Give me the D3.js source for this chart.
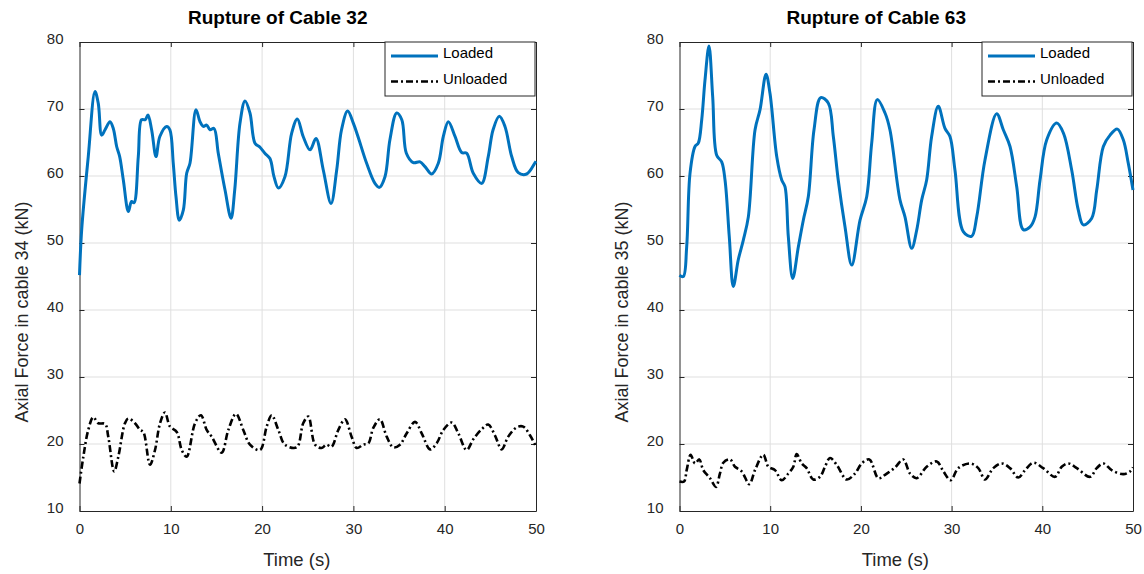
<!DOCTYPE html>
<html>
<head>
<meta charset="utf-8">
<script src="https://cdn.jsdelivr.net/npm/d3@7"></script>
<style>
  body { margin: 0; background: #fff; }
  svg { font-family: "Liberation Sans", Arial, sans-serif; }
</style>
</head>
<body>
<main></main>
<script>
const width = 1144;
const height = 574;

// ---- data (time in s, force in kN) ----
const c32LoadedT = [0, 0.24, 0.96, 1.7, 2.06, 2.43, 2.8, 3.34, 3.7, 4.07, 4.4, 4.8, 5.35, 5.7, 5.97, 6.44, 6.8, 7.2, 7.5, 7.9, 8.38, 8.8, 9.55, 9.9, 10.27, 10.57, 10.93, 11.37, 11.74, 12.1, 12.76, 13.2, 13.56, 13.93, 14.3, 14.73, 15.2, 15.94, 16.6, 17.0, 17.58, 18.13, 18.67, 19.22, 19.77, 20.3, 20.86, 21.3, 21.78, 22.5, 23.24, 23.86, 24.5, 25.25, 25.9, 26.7, 27.55, 28.17, 28.7, 29.37, 29.99, 30.5, 31.45, 32.36, 32.84, 33.46, 34.0, 34.74, 35.3, 35.8, 36.56, 37.3, 37.84, 38.57, 39.3, 39.85, 40.4, 41.13, 41.86, 42.4, 43.13, 44.05, 44.77, 45.3, 45.98, 46.6, 47.34, 48.06, 48.98, 49.9, 50];
const c32LoadedV = [45.2, 52, 62.9, 72.6, 70.8, 66.1, 66.9, 68.1, 67.1, 64.4, 62.9, 59.4, 54.7, 56.2, 56, 62.9, 68.4, 68.4, 69.1, 66.9, 62.9, 65.9, 67.4, 66.9, 61.9, 56.9, 53.4, 54.9, 60.4, 61.9, 69.9, 68.1, 67.4, 67.6, 66.9, 67.1, 63.4, 57.9, 53.7, 57.9, 67.9, 71.2, 69.4, 64.9, 64.3, 63.4, 62.6, 59.9, 58.2, 59.9, 66.4, 68.5, 65.9, 63.9, 65.6, 60.9, 55.9, 60.9, 66.9, 69.7, 67.9, 65.9, 61.9, 58.9, 58.3, 59.9, 65.4, 69.4, 68.4, 63.4, 62, 62.1, 61.4, 60.3, 61.9, 65.9, 68.1, 65.9, 63.5, 63.4, 60.4, 58.9, 62.9, 66.9, 68.9, 67.4, 62.9, 60.5, 60.3, 62, 62.2];

const c32UnloadedT = [0, 0.42, 0.96, 1.51, 2.06, 2.8, 3.15, 3.8, 4.25, 4.98, 5.35, 6.08, 6.63, 6.99, 7.72, 8.27, 8.82, 9.36, 9.91, 10.65, 11.2, 11.74, 12.65, 13.3, 13.93, 14.48, 15.57, 16.3, 17.14, 17.94, 18.67, 19.77, 20.5, 21.05, 21.78, 22.5, 23.79, 24.5, 25.06, 25.8, 26.5, 27.06, 27.6, 28.35, 29.08, 29.8, 30.36, 31.08, 31.63, 32.18, 32.9, 33.65, 34.37, 35.1, 35.84, 36.75, 37.48, 38.4, 39.12, 39.85, 40.77, 41.49, 42.4, 43.13, 44.05, 44.77, 45.5, 46.24, 46.96, 47.9, 48.6, 49.34, 50];
const c32UnloadedV = [14.1, 18.1, 22.1, 24.0, 23.1, 23, 21.1, 15.9, 18.1, 23.1, 23.8, 23.1, 22.1, 21.8, 16.9, 19.1, 23.1, 24.7, 22.6, 21.8, 19.1, 18.1, 23.1, 24.3, 22.1, 21.1, 18.7, 22.1, 24.5, 22.1, 19.9, 19.1, 22.6, 24.3, 22.1, 19.9, 19.5, 23.1, 24.1, 19.9, 19.4, 19.9, 19.6, 22.1, 23.7, 21.1, 19.4, 19.9, 20.1, 22.4, 23.7, 21.1, 19.5, 19.9, 21.6, 23.3, 21.6, 19.2, 20.1, 22.1, 23.2, 21.6, 19.1, 20.7, 22.2, 22.9, 21.3, 19.2, 21.1, 22.5, 22.6, 21.3, 19.6];

const c63LoadedT = [0, 0.42, 0.79, 1.16, 1.71, 2.07, 2.45, 2.81, 3.25, 3.66, 4.1, 4.65, 5.02, 5.49, 5.93, 6.48, 7.03, 7.59, 8.33, 8.88, 9.54, 9.98, 10.72, 11.27, 11.63, 12.0, 12.48, 13.1, 13.65, 14.2, 14.83, 15.57, 16.4, 16.96, 17.5, 18.25, 18.99, 19.9, 20.64, 21.19, 21.81, 22.66, 23.2, 24.3, 24.86, 25.6, 26.15, 26.7, 27.25, 27.8, 28.53, 29.27, 29.82, 30.37, 31.29, 32.2, 32.77, 33.68, 34.97, 35.7, 36.44, 37.18, 37.9, 38.65, 39.2, 39.75, 40.49, 41.59, 42.33, 43.24, 43.97, 44.52, 45.45, 46.0, 46.73, 47.47, 48.27, 48.93, 49.48, 50];
const c63LoadedV = [45.2, 45, 49.4, 60.4, 64.4, 64.9, 68.4, 74.3, 79.4, 71.8, 63.1, 62.1, 59.4, 50.9, 43.5, 47.5, 50.4, 53.9, 66.9, 69.9, 75.2, 72.3, 62.9, 59.4, 58.4, 50.9, 44.7, 49.4, 53.4, 56.9, 66.9, 71.7, 70.9, 65.9, 59.4, 52.4, 46.7, 53.4, 56.9, 64.9, 71.4, 69.4, 66.9, 56.5, 53.9, 49.2, 51.9, 56.4, 59.4, 65.9, 70.4, 67.1, 65.9, 60.9, 51.7, 51, 53.9, 62.4, 69.3, 66.9, 64.4, 58.4, 52.0, 52.4, 53.9, 59.4, 65.4, 67.9, 66.4, 60.9, 54.9, 52.7, 53.7, 57.9, 64.4, 66.1, 67, 65.4, 61.9, 57.9];

const c63UnloadedT = [0, 0.5, 0.79, 1.23, 1.71, 2.18, 2.62, 3.36, 4.02, 4.46, 4.83, 5.56, 6.12, 6.86, 7.7, 8.32, 9.24, 9.8, 10.53, 11.27, 12.0, 12.55, 12.92, 13.47, 14.02, 14.75, 15.49, 16.04, 16.59, 17.33, 18.43, 19.35, 20.09, 20.93, 21.92, 22.66, 23.76, 24.67, 25.41, 26.15, 27.25, 28.36, 29.1, 29.9, 30.74, 32.03, 32.94, 33.68, 34.6, 35.52, 36.44, 37.35, 38.1, 39.0, 40.1, 41.4, 42.14, 42.87, 43.8, 45.26, 46.0, 46.73, 47.65, 48.93, 49.67, 50];
const c63UnloadedV = [14.4, 14.4, 16.1, 18.4, 17.1, 17.7, 16.1, 14.9, 13.6, 15.6, 17.2, 17.7, 16.6, 15.9, 14.0, 16.1, 18.4, 16.6, 16.1, 14.6, 15.6, 16.6, 18.5, 17.1, 16.4, 14.7, 15.1, 16.6, 17.9, 16.9, 14.7, 15.6, 17.1, 17.7, 14.9, 15.4, 16.5, 17.7, 15.6, 14.9, 16.6, 17.4, 15.9, 14.6, 16.4, 17.1, 16.4, 14.7, 16.4, 17.1, 16.4, 15.0, 16.1, 17.2, 16.4, 15.1, 16.6, 17.1, 16.4, 15.1, 16.4, 17.1, 16.1, 15.5, 15.9, 16.5];

const xTicks = [0, 10, 20, 30, 40, 50];
const yTicks = [10, 20, 30, 40, 50, 60, 70, 80];
const seriesNames = ['Loaded', 'Unloaded'];

const panels = [
  {title: 'Rupture of Cable 32', ylabel: 'Axial Force in cable 34 (kN)', left: 79.5, right: 536,
   loaded: [c32LoadedT, c32LoadedV], unloaded: [c32UnloadedT, c32UnloadedV]},
  {title: 'Rupture of Cable 63', ylabel: 'Axial Force in cable 35 (kN)', left: 679.5, right: 1133,
   loaded: [c63LoadedT, c63LoadedV], unloaded: [c63UnloadedT, c63UnloadedV]}
];

const plotTop = 42, plotBottom = 511;
const axisColor = '#262626';
const blue = '#0072BD';

const svg = d3.select('main').append('svg')
  .attr('width', width)
  .attr('height', height);

const zip = (ts, vs) => ts.map((t, i) => [t, vs[i]]);

panels.forEach(p => {
  const x = d3.scaleLinear().domain([0, 50]).range([p.left, p.right]);
  const y = d3.scaleLinear().domain([10, 80]).range([plotBottom, plotTop]);
  const g = svg.append('g');
  const mid = (p.left + p.right) / 2;

  // grid
  g.append('g').selectAll('line')
    .data(xTicks.slice(1, -1)).enter().append('line')
    .attr('x1', d => x(d)).attr('x2', d => x(d))
    .attr('y1', plotTop).attr('y2', plotBottom)
    .style('stroke', '#dfdfdf').style('stroke-width', 1);
  g.append('g').selectAll('line')
    .data(yTicks.slice(1, -1)).enter().append('line')
    .attr('y1', d => y(d)).attr('y2', d => y(d))
    .attr('x1', p.left).attr('x2', p.right)
    .style('stroke', '#dfdfdf').style('stroke-width', 1);

  // axes with inward ticks (matlab style)
  const ax = (gen, tx) => g.append('g')
    .attr('transform', tx)
    .call(gen)
    .call(s => s.select('.domain').attr('stroke', axisColor))
    .call(s => s.selectAll('.tick line').attr('stroke', axisColor))
    .call(s => s.selectAll('.tick text')
      .attr('fill', '#262626').style('font-size', '15px')
      .style('font-family', '"Liberation Sans", Arial, sans-serif'));

  ax(d3.axisBottom(x).tickValues(xTicks).tickSizeInner(-5).tickSizeOuter(0).tickPadding(12),
     `translate(0,${plotBottom})`);
  ax(d3.axisLeft(y).tickValues(yTicks).tickSizeInner(-5).tickSizeOuter(0).tickPadding(16),
     `translate(${p.left},0)`)
    .selectAll('.tick text').attr('dy', '0.09em');
  const topAx = ax(d3.axisTop(x).tickValues(xTicks).tickSizeInner(-5).tickSizeOuter(0),
     `translate(0,${plotTop})`);
  topAx.selectAll('.tick text').remove();
  const rightAx = ax(d3.axisRight(y).tickValues(yTicks).tickSizeInner(-5).tickSizeOuter(0),
     `translate(${p.right},0)`);
  rightAx.selectAll('.tick text').remove();

  const line = d3.line()
    .x(d => x(d[0])).y(d => y(d[1]))
    .curve(d3.curveCatmullRom.alpha(0.5));

  g.append('path')
    .datum(zip(p.unloaded[0], p.unloaded[1]))
    .attr('d', line)
    .style('fill', 'none').style('stroke', '#000')
    .style('stroke-width', 2.6)
    .style('stroke-dasharray', '7,3,2,3');

  g.append('path')
    .datum(zip(p.loaded[0], p.loaded[1]))
    .attr('d', line)
    .style('fill', 'none').style('stroke', blue)
    .style('stroke-width', 3)
    .style('stroke-linejoin', 'round');

  // title
  g.append('text')
    .attr('x', mid - 30).attr('y', 24)
    .attr('text-anchor', 'middle')
    .style('font-size', '19px').style('font-weight', 'bold')
    .style('fill', '#000')
    .text(p.title);

  // axis labels
  g.append('text')
    .attr('x', mid - 11).attr('y', 566)
    .attr('text-anchor', 'middle')
    .style('font-size', '18.5px').style('fill', '#262626')
    .text('Time (s)');
  g.append('text')
    .attr('transform', `translate(${p.left - 51.5},312) rotate(-90)`)
    .attr('text-anchor', 'middle')
    .style('font-size', '18px').style('fill', '#262626')
    .text(p.ylabel);

  // legend
  const lx = p.right - 151, ly = plotTop;
  const leg = g.append('g');
  leg.append('rect')
    .attr('x', lx).attr('y', ly).attr('width', 150).attr('height', 54)
    .style('fill', '#fff').style('stroke', axisColor).style('stroke-width', 1);
  seriesNames.forEach((name, i) => {
    const yy = ly + 14 + i * 25.5;
    leg.append('line')
      .attr('x1', lx + 6).attr('x2', lx + 53)
      .attr('y1', yy).attr('y2', yy)
      .style('stroke', i === 0 ? blue : '#000')
      .style('stroke-width', i === 0 ? 3 : 2.6)
      .style('stroke-dasharray', i === 0 ? null : '7,3,2,3');
    leg.append('text')
      .attr('x', lx + 58).attr('y', yy + 2)
      .style('font-size', '15px').style('fill', '#000')
      .text(name);
  });
});
</script>
</body>
</html>
